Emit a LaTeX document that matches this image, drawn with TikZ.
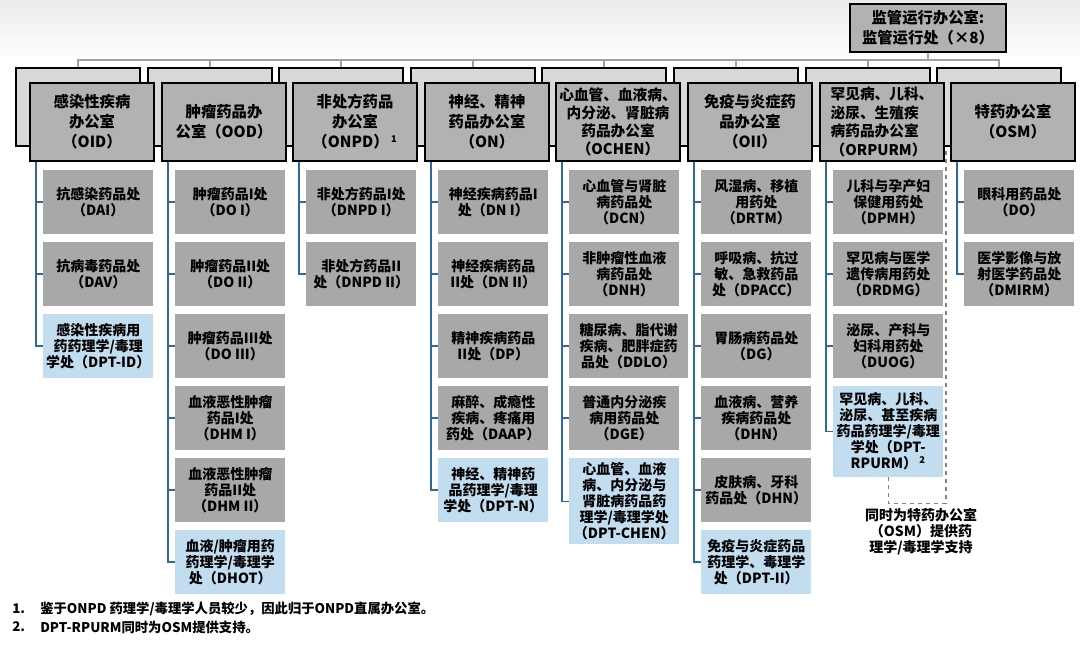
\documentclass[tikz,border=0pt]{standalone}
\usepackage{fontspec}
\setmainfont{Noto Sans CJK SC}
\definecolor{backgray}{RGB}{217,217,217}
\definecolor{frontgray}{RGB}{178,178,178}
\definecolor{divgray}{RGB}{168,168,168}
\definecolor{pharmblue}{RGB}{194,221,240}
\definecolor{divblue}{RGB}{46,104,156}
\definecolor{orggray}{RGB}{160,160,160}
\definecolor{notegray}{RGB}{130,130,130}

\begin{document}
\begin{tikzpicture}[x=0.75pt,y=0.75pt,yscale=-1,xscale=1,
  backbox/.style={draw=black,line width=1.5pt,fill=backgray,minimum width=93pt,minimum height=58.5pt,anchor=north west,inner sep=0pt},
  officebox/.style={draw=black,line width=1.5pt,fill=frontgray,minimum width=93pt,minimum height=58.5pt,anchor=north west,inner sep=1pt,align=center,font=\bfseries\fontsize{11.5}{15}\selectfont},
  divbox/.style={fill=divgray,minimum width=82.5pt,minimum height=47.6pt,anchor=north west,inner sep=1pt,align=center,font=\bfseries\fontsize{10.5}{12}\selectfont},
  pharmbox/.style={divbox,fill=pharmblue},
  orgline/.style={draw=orggray,line width=1.1pt},
  divline/.style={draw=divblue,line width=0.9pt},
  noteline/.style={draw=notegray,dashed,line width=0.8pt},
  fntext/.style={anchor=west,inner sep=0pt,font=\bfseries\fontsize{10}{12}\selectfont}]
\useasboundingbox (0,0) rectangle (1080,644);

%Shape: Rectangle [background band]
\shade [top color=gray!16,bottom color=white] (0,0) rectangle (1080,60);

% Text Node
\node [officebox,minimum width=117pt,minimum height=36pt] (regops) at (849,3) {监管运行办公室:\\监管运行处（×8）};

%Shape: Rectangle (back boxes)
\node [backbox] (bk1) at (15,67) {};
\node [backbox] (bk2) at (147,67) {};
\node [backbox] (bk3) at (278,67) {};
\node [backbox] (bk4) at (410,67) {};
\node [backbox] (bk5) at (541,67) {};
\node [backbox] (bk6) at (673,67) {};
\node [backbox] (bk7) at (805,67) {};
\node [backbox] (bk8) at (936,67) {};

%Straight Lines
\draw [orgline] (regops.south) -- ++(0,7) coordinate (hub);
\draw [orgline] (hub) -| (bk1.north);
\draw [orgline] (hub) -| (bk2.north);
\draw [orgline] (hub) -| (bk3.north);
\draw [orgline] (hub) -| (bk4.north);
\draw [orgline] (hub) -| (bk5.north);
\draw [orgline] (hub) -| (bk6.north);
\draw [orgline] (hub) -| (bk7.north);
\draw [orgline] (hub) -| (bk8.north);

% Text Node (offices)
\node [officebox] (oid) at (29,82) {感染性疾病\\办公室\\（OID）};
\node [officebox] (ood) at (161,82) {肿瘤药品办\\公室（OOD）};
\node [officebox] (onpd) at (292,82) {非处方药品\\办公室\\（ONPD）\,\textsuperscript{\scriptsize 1}};
\node [officebox] (on) at (424,82) {神经、精神\\药品办公室\\（ON）};
\node [officebox,font=\bfseries\fontsize{11}{13.5}\selectfont] (ochen) at (555,82) {心血管、血液病、\\内分泌、肾脏病\\药品办公室\\（OCHEN）};
\node [officebox] (oii) at (687,82) {免疫与炎症药\\品办公室\\（OII）};
\node [officebox,align=left,font=\bfseries\fontsize{11}{14}\selectfont] (orpurm) at (819,82) {罕见病、儿科、\\泌尿、生殖疾\\病药品办公室\\（ORPURM）};
\node [officebox] (osm) at (950,82) {特药办公室\\（OSM）};

% Text Node (OID divisions)
\node [divbox] (dai) at (43,170) {抗感染药品处\\（DAI）};
\node [divbox] (dav) at (43,242) {抗病毒药品处\\（DAV）};
\node [pharmbox] (dptid) at (43,314) {感染性疾病用\\药药理学/毒理\\学处（DPT-ID）};

% Text Node (OOD divisions)
\node [divbox] (doi) at (175,170) {肿瘤药品I处\\（DO I）};
\node [divbox] (doii) at (175,242) {肿瘤药品II处\\（DO II）};
\node [divbox] (doiii) at (175,314) {肿瘤药品III处\\（DO III）};
\node [divbox] (dhmi) at (175,386) {血液恶性肿瘤\\药品I处\\（DHM I）};
\node [divbox] (dhmii) at (175,458) {血液恶性肿瘤\\药品II处\\（DHM II）};
\node [pharmbox] (dhot) at (175,530) {血液/肿瘤用药\\药理学/毒理学\\处（DHOT）};

% Text Node (ONPD divisions)
\node [divbox] (dnpdi) at (306,170) {非处方药品I处\\（DNPD I）};
\node [divbox] (dnpdii) at (306,242) {非处方药品II\\处（DNPD II）};

% Text Node (ON divisions)
\node [divbox] (dni) at (438,170) {神经疾病药品I\\处（DN I）};
\node [divbox] (dnii) at (438,242) {神经疾病药品\\II处（DN II）};
\node [divbox] (dp) at (438,314) {精神疾病药品\\II处（DP）};
\node [divbox] (daap) at (438,386) {麻醉、成瘾性\\疾病、疼痛用\\药处（DAAP）};
\node [pharmbox] (dptn) at (438,458) {神经、精神药\\品药理学/毒理\\学处（DPT-N）};

% Text Node (OCHEN divisions)
\node [divbox] (dcn) at (569,170) {心血管与肾脏\\病药品处\\（DCN）};
\node [divbox] (dnh) at (569,242) {非肿瘤性血液\\病药品处\\（DNH）};
\node [divbox,minimum width=89pt] (ddlo) at (569,314) {糖尿病、脂代谢\\疾病、肥胖症药\\品处（DDLO）};
\node [divbox] (dge) at (569,386) {普通内分泌疾\\病用药品处\\（DGE）};
\node [pharmbox,minimum height=64.5pt] (dptchen) at (569,458) {心血管、血液\\病、内分泌与\\肾脏病药品药\\理学/毒理学处\\（DPT-CHEN）};

% Text Node (OII divisions)
\node [divbox] (drtm) at (701,170) {风湿病、移植\\用药处\\（DRTM）};
\node [divbox] (dpacc) at (701,242) {呼吸病、抗过\\敏、急救药品\\处（DPACC）};
\node [divbox] (dg) at (701,314) {胃肠病药品处\\（DG）};
\node [divbox] (dhn) at (701,386) {血液病、营养\\疾病药品处\\（DHN）};
\node [divbox] (ddhn) at (701,458) {皮肤病、牙科\\药品处（DHN）};
\node [pharmbox] (dptii) at (701,530) {免疫与炎症药品\\药理学、毒理学\\处（DPT-II）};

% Text Node (ORPURM divisions)
\node [divbox] (dpmh) at (833,170) {儿科与孕产妇\\保健用药处\\（DPMH）};
\node [divbox] (drdmg) at (833,242) {罕见病与医学\\遗传病用药处\\（DRDMG）};
\node [divbox] (duog) at (833,314) {泌尿、产科与\\妇科用药处\\（DUOG）};
\node [pharmbox,minimum height=68pt] (dptrpurm) at (833,386) {罕见病、儿科、\\泌尿、甚至疾病\\药品药理学/毒理\\学处（DPT-\\RPURM）\,\textsuperscript{\scriptsize 2}};

% Text Node (OSM divisions)
\node [divbox] (do) at (964,170) {眼科用药品处\\（DO）};
\node [divbox] (dmirm) at (964,242) {医学影像与放\\射医学药品处\\（DMIRM）};

%Straight Lines (divisions)
\draw [divline] ([xshift=5.25pt]oid.south west) |- (dai.west);
\draw [divline] ([xshift=5.25pt]oid.south west) |- (dav.west);
\draw [divline] ([xshift=5.25pt]oid.south west) |- (dptid.west);
\draw [divline] ([xshift=5.25pt]ood.south west) |- (doi.west);
\draw [divline] ([xshift=5.25pt]ood.south west) |- (doii.west);
\draw [divline] ([xshift=5.25pt]ood.south west) |- (doiii.west);
\draw [divline] ([xshift=5.25pt]ood.south west) |- (dhmi.west);
\draw [divline] ([xshift=5.25pt]ood.south west) |- (dhmii.west);
\draw [divline] ([xshift=5.25pt]ood.south west) |- (dhot.west);
\draw [divline] ([xshift=5.25pt]onpd.south west) |- (dnpdi.west);
\draw [divline] ([xshift=5.25pt]onpd.south west) |- (dnpdii.west);
\draw [divline] ([xshift=5.25pt]on.south west) |- (dni.west);
\draw [divline] ([xshift=5.25pt]on.south west) |- (dnii.west);
\draw [divline] ([xshift=5.25pt]on.south west) |- (dp.west);
\draw [divline] ([xshift=5.25pt]on.south west) |- (daap.west);
\draw [divline] ([xshift=5.25pt]on.south west) |- (dptn.west);
\draw [divline] ([xshift=5.25pt]ochen.south west) |- (dcn.west);
\draw [divline] ([xshift=5.25pt]ochen.south west) |- (dnh.west);
\draw [divline] ([xshift=5.25pt]ochen.south west) |- (ddlo.west);
\draw [divline] ([xshift=5.25pt]ochen.south west) |- (dge.west);
\draw [divline] ([xshift=5.25pt]ochen.south west) |- (dptchen.west);
\draw [divline] ([xshift=5.25pt]oii.south west) |- (drtm.west);
\draw [divline] ([xshift=5.25pt]oii.south west) |- (dpacc.west);
\draw [divline] ([xshift=5.25pt]oii.south west) |- (dg.west);
\draw [divline] ([xshift=5.25pt]oii.south west) |- (dhn.west);
\draw [divline] ([xshift=5.25pt]oii.south west) |- (ddhn.west);
\draw [divline] ([xshift=5.25pt]oii.south west) |- (dptii.west);
\draw [divline] ([xshift=5.25pt]orpurm.south west) |- (dpmh.west);
\draw [divline] ([xshift=5.25pt]orpurm.south west) |- (drdmg.west);
\draw [divline] ([xshift=5.25pt]orpurm.south west) |- (duog.west);
\draw [divline] ([xshift=5.25pt]orpurm.south west) |- (dptrpurm.west);
\draw [divline] ([xshift=5.25pt]osm.south west) |- (do.west);
\draw [divline] ([xshift=5.25pt]osm.south west) |- (dmirm.west);

%Straight Lines (dashed support link)
\draw [noteline] (dptrpurm.south) -- ++(0,26) -| ([xshift=7.5pt]bk8.south west);

% Text Node
\node [align=center,inner sep=0pt,font=\bfseries\fontsize{10.5}{12}\selectfont] (osmnote) at (921,532) {同时为特药办公室\\（OSM）提供药\\理学/毒理学支持};

% Text Node (footnotes)
\node [fntext] (fn1) at (12,609) {1.};
\node [fntext] (fn1t) at (40,609) {鉴于ONPD 药理学/毒理学人员较少，因此归于ONPD直属办公室。};
\node [fntext] (fn2) at (12,627) {2.};
\node [fntext] (fn2t) at (40,627) {DPT-RPURM同时为OSM提供支持。};

\end{tikzpicture}
\end{document}
